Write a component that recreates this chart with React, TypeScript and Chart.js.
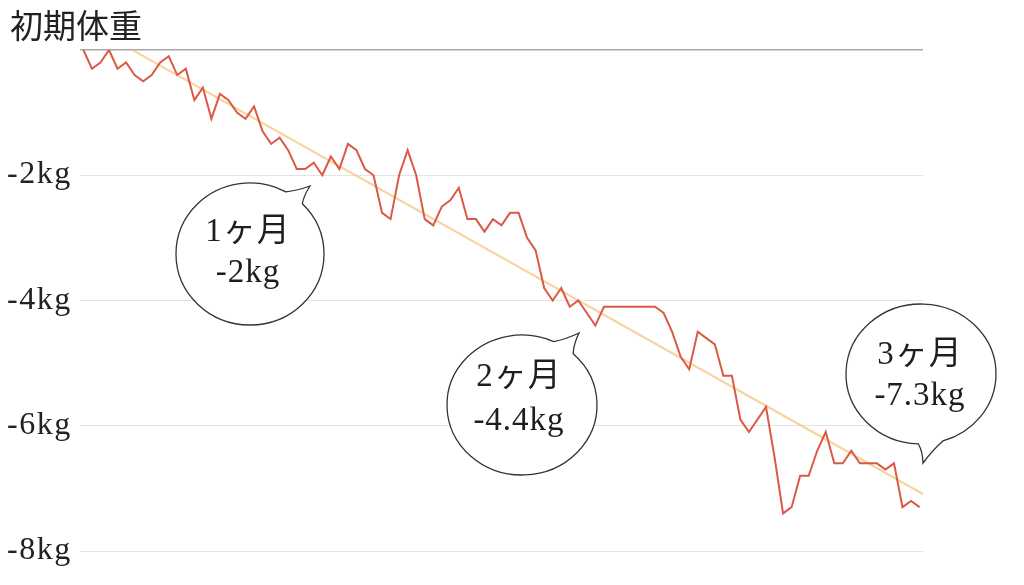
import React, { useEffect, useRef } from "react";
import { Chart, registerables } from "chart.js";

Chart.register(...registerables);

// Daily change from the starting weight (kg)
const weightChange: number[] = [
  0, -0.3, -0.2, 0, -0.3, -0.2, -0.4, -0.5, -0.4, -0.2,
  -0.1, -0.4, -0.3, -0.8, -0.6, -1.1, -0.7, -0.8, -1.0, -1.1,
  -0.9, -1.3, -1.5, -1.4, -1.6, -1.9, -1.9, -1.8, -2.0, -1.7,
  -1.9, -1.5, -1.6, -1.9, -2.0, -2.6, -2.7, -2.0, -1.6, -2.0,
  -2.7, -2.8, -2.5, -2.4, -2.2, -2.7, -2.7, -2.9, -2.7, -2.8,
  -2.6, -2.6, -3.0, -3.2, -3.8, -4.0, -3.8, -4.1, -4.0, -4.2,
  -4.4, -4.1, -4.1, -4.1, -4.1, -4.1, -4.1, -4.1, -4.2, -4.5,
  -4.9, -5.1, -4.5, -4.6, -4.7, -5.2, -5.2, -5.9, -6.1, -5.9,
  -5.7, -6.5, -7.4, -7.3, -6.8, -6.8, -6.4, -6.1, -6.6, -6.6,
  -6.4, -6.6, -6.6, -6.6, -6.7, -6.6, -7.3, -7.2, -7.3,
];

// Trend line endpoints (day, kg)
const trendDays: number[] = [-0.4, 98.4];
const trendValues: number[] = [0.47, -7.09];

// Y axis ticks
const yTickValues: number[] = [0, -2, -4, -6, -8];
const yTickLabels: string[] = ["初期体重", "-2kg", "-4kg", "-6kg", "-8kg"];

// Callout bubbles
const bubbleTitles: string[] = ["1ヶ月", "2ヶ月", "3ヶ月"];
const bubbleValues: string[] = ["-2kg", "-4.4kg", "-7.3kg"];

const bubbleLayout = [
  { cx: 250, cy: 254, rx: 74, ry: 71, a1: -61, a2: -45, tipX: 310, tipY: 186, tx: 248, b1: 241, b2: 282 },
  { cx: 522, cy: 405, rx: 75, ry: 70, a1: -65, a2: -47, tipX: 579, tipY: 333, tx: 519, b1: 386, b2: 430 },
  { cx: 921, cy: 374, rx: 75, ry: 70, a1: 73, a2: 92, tipX: 923, tipY: 463, tx: 920, b1: 364, b2: 405 },
];

const SERIF = '"Liberation Serif", "Noto Sans CJK JP", serif';

function drawBubble(ctx: CanvasRenderingContext2D, b: typeof bubbleLayout[number]) {
  const r1 = (b.a1 * Math.PI) / 180;
  const r2 = (b.a2 * Math.PI) / 180;
  const p1 = { x: b.cx + b.rx * Math.cos(r1), y: b.cy + b.ry * Math.sin(r1) };
  const p2 = { x: b.cx + b.rx * Math.cos(r2), y: b.cy + b.ry * Math.sin(r2) };
  const mid = { x: (p1.x + p2.x) / 2, y: (p1.y + p2.y) / 2 };
  const c1 = {
    x: ((p1.x + b.tipX) / 2) * 0.8 + mid.x * 0.2,
    y: ((p1.y + b.tipY) / 2) * 0.8 + mid.y * 0.2,
  };
  const c2 = {
    x: ((p2.x + b.tipX) / 2) * 0.8 + mid.x * 0.2,
    y: ((p2.y + b.tipY) / 2) * 0.8 + mid.y * 0.2,
  };
  ctx.beginPath();
  ctx.ellipse(b.cx, b.cy, b.rx, b.ry, 0, r2, r1 + Math.PI * 2, false);
  ctx.quadraticCurveTo(c1.x, c1.y, b.tipX, b.tipY);
  ctx.quadraticCurveTo(c2.x, c2.y, p2.x, p2.y);
  ctx.closePath();
  ctx.fillStyle = "#ffffff";
  ctx.fill();
  ctx.strokeStyle = "#333333";
  ctx.lineWidth = 1.3;
  ctx.stroke();
}

const overlayPlugin = {
  id: "overlay",
  afterDraw(chart: any) {
    const ctx: CanvasRenderingContext2D = chart.ctx;
    const yScale = chart.scales.y;
    ctx.save();
    // Y labels
    ctx.fillStyle = "#222222";
    ctx.textAlign = "left";
    ctx.textBaseline = "alphabetic";
    yTickValues.forEach((v, i) => {
      const y = yScale.getPixelForValue(v);
      if (v === 0) {
        (ctx as any).letterSpacing = "0px";
        ctx.font = '33px "Noto Sans CJK JP", sans-serif';
        ctx.fillText(yTickLabels[i], 10, y - 12);
      } else {
        (ctx as any).letterSpacing = "1.5px";
        ctx.font = `32px ${SERIF}`;
        ctx.fillText(yTickLabels[i], 7, y + 8);
      }
    });
    // Bubbles
    bubbleLayout.forEach((b, i) => {
      drawBubble(ctx, b);
      ctx.fillStyle = "#1e1e1e";
      ctx.textAlign = "center";
      (ctx as any).letterSpacing = "1px";
      ctx.font = `33px ${SERIF}`;
      ctx.fillText(bubbleTitles[i], b.tx, b.b1);
      ctx.fillText(bubbleValues[i], b.tx, b.b2);
    });
    ctx.restore();
  },
};

export default function App() {
  const canvasRef = useRef<HTMLCanvasElement | null>(null);

  useEffect(() => {
    const canvas = canvasRef.current;
    if (!canvas) return;
    const weightPoints = weightChange.map((v, i) => ({ x: i, y: v }));
    const trendPoints = trendDays.map((d, i) => ({ x: d, y: trendValues[i] }));
    const chart = new Chart(canvas, {
      type: "line",
      data: {
        datasets: [
          {
            label: "体重",
            data: weightPoints,
            borderColor: "#dc5946",
            borderWidth: 2,
            pointRadius: 0,
            tension: 0,
            fill: false,
            order: 1,
          },
          {
            label: "傾向",
            data: trendPoints,
            borderColor: "rgba(244, 192, 112, 0.7)",
            borderWidth: 2,
            pointRadius: 0,
            tension: 0,
            fill: false,
            order: 2,
          },
        ],
      },
      options: {
        animation: false,
        responsive: false,
        devicePixelRatio: 1,
        layout: { padding: { left: 0, right: 101, top: 50, bottom: 34 } },
        plugins: {
          legend: { display: false },
          tooltip: { enabled: false },
          title: { display: false },
        },
        scales: {
          x: {
            type: "linear",
            display: false,
            min: -0.4,
            max: 98.4,
          },
          y: {
            type: "linear",
            min: -8,
            max: 0,
            afterFit: (scale: any) => {
              scale.width = 80;
            },
            ticks: { display: false, stepSize: 2 },
            border: { display: false },
            grid: {
              drawTicks: false,
              color: (c: any) => (c.tick && c.tick.value === 0 ? "#a8a8a8" : "#e3e3e3"),
              lineWidth: (c: any) => (c.tick && c.tick.value === 0 ? 1.5 : 1),
            },
          },
        },
      },
      plugins: [overlayPlugin],
    });
    return () => chart.destroy();
  }, []);

  return (
    <div style={{ position: "fixed", left: 0, top: 0, width: 1024, height: 585, background: "#fff" }}>
      <canvas ref={canvasRef} width={1024} height={585} style={{ display: "block" }} />
    </div>
  );
}
